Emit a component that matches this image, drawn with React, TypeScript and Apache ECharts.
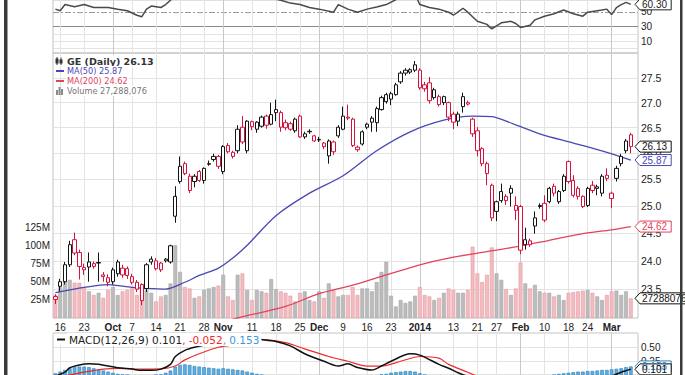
import React, { useEffect, useRef } from 'react';
import * as echarts from 'echarts';

const dates = [
  '2013-09-13','2013-09-16','2013-09-17','2013-09-18','2013-09-19','2013-09-20','2013-09-23','2013-09-24','2013-09-25','2013-09-26','2013-09-27','2013-09-30',
  '2013-10-01','2013-10-02','2013-10-03','2013-10-04','2013-10-07','2013-10-08','2013-10-09','2013-10-10','2013-10-11','2013-10-14','2013-10-15','2013-10-16','2013-10-17','2013-10-18','2013-10-21','2013-10-22','2013-10-23','2013-10-24','2013-10-25','2013-10-28','2013-10-29','2013-10-30','2013-10-31',
  '2013-11-01','2013-11-04','2013-11-05','2013-11-06','2013-11-07','2013-11-08','2013-11-11','2013-11-12','2013-11-13','2013-11-14','2013-11-15','2013-11-18','2013-11-19','2013-11-20','2013-11-21','2013-11-22','2013-11-25','2013-11-26','2013-11-27','2013-11-29',
  '2013-12-02','2013-12-03','2013-12-04','2013-12-05','2013-12-06','2013-12-09','2013-12-10','2013-12-11','2013-12-12','2013-12-13','2013-12-16','2013-12-17','2013-12-18','2013-12-19','2013-12-20','2013-12-23','2013-12-24','2013-12-26','2013-12-27','2013-12-30','2013-12-31',
  '2014-01-02','2014-01-03','2014-01-06','2014-01-07','2014-01-08','2014-01-09','2014-01-10','2014-01-13','2014-01-14','2014-01-15','2014-01-16','2014-01-17','2014-01-21','2014-01-22','2014-01-23','2014-01-24','2014-01-27','2014-01-28','2014-01-29','2014-01-30','2014-01-31',
  '2014-02-03','2014-02-04','2014-02-05','2014-02-06','2014-02-07','2014-02-10','2014-02-11','2014-02-12','2014-02-13','2014-02-14','2014-02-18','2014-02-19','2014-02-20','2014-02-21','2014-02-24','2014-02-25','2014-02-26','2014-02-27','2014-02-28',
  '2014-03-03','2014-03-04','2014-03-05','2014-03-06','2014-03-07'
];

const opens = [
  23.37,23.55,23.63,23.93,24.38,24.15,23.84,23.89,23.90,23.97,23.75,23.70,
  23.63,23.77,23.87,23.86,23.72,23.62,23.58,23.51,23.98,23.86,23.96,24.03,23.98,24.81,25.46,25.80,25.56,25.46,25.65,25.48,25.79,25.88,25.94,
  25.65,26.15,25.94,26.05,26.51,26.05,26.62,26.47,26.53,26.73,26.57,26.86,26.80,26.60,26.58,26.44,26.73,26.32,26.43,26.34,
  26.27,26.20,25.95,26.22,26.34,26.47,26.69,26.67,26.07,26.18,26.51,26.69,26.60,26.86,27.02,27.07,27.16,27.42,27.60,27.62,27.66,
  27.66,27.36,27.40,27.26,27.12,27.12,27.00,26.77,26.63,26.92,27.00,26.67,26.44,26.09,25.80,25.39,25.08,25.10,25.18,25.33,25.01,
  24.99,24.29,24.29,24.63,25.01,25.05,25.08,25.37,25.08,25.29,25.84,25.48,25.33,25.18,25.01,25.39,25.36,25.24,25.58,
  25.24,25.52,25.80,26.05,26.36
];
const closes = [
  23.32,23.63,23.93,24.29,24.14,23.90,23.88,23.98,23.95,23.96,23.72,23.62,
  23.84,23.98,23.75,23.74,23.62,23.50,23.30,23.93,24.03,24.00,23.84,24.00,24.27,25.18,25.75,25.61,25.29,25.56,25.48,25.71,25.80,25.94,25.75,
  26.13,26.03,26.02,26.47,26.22,26.63,26.52,26.61,26.71,26.55,26.76,26.80,26.51,26.50,26.47,26.67,26.32,26.38,26.42,26.24,
  26.26,26.13,26.24,26.03,26.51,26.73,26.71,26.15,26.12,26.42,26.57,26.61,26.88,27.10,27.16,27.18,27.36,27.60,27.66,27.67,27.77,
  27.30,27.28,27.04,27.10,26.96,27.00,26.71,26.61,26.77,27.12,26.97,26.38,26.05,25.80,25.61,24.78,24.90,25.27,25.10,25.24,24.92,
  24.19,24.38,24.36,24.78,24.99,24.74,25.33,25.24,25.27,25.56,25.46,25.20,25.18,24.99,25.33,25.29,25.33,25.56,25.52,
  25.14,25.71,25.94,26.24,26.13
];
const lows = [
  23.24,23.46,23.58,23.89,24.10,23.67,23.75,23.63,23.86,23.63,23.63,23.55,
  23.58,23.72,23.70,23.68,23.58,23.45,23.22,23.45,23.93,23.83,23.80,23.97,23.95,24.69,25.42,25.58,25.24,25.35,25.45,25.42,25.76,25.84,25.70,
  25.60,26.00,25.90,26.00,26.18,26.00,26.45,26.40,26.50,26.48,26.55,26.63,26.42,26.45,26.44,26.40,26.30,26.28,26.38,26.22,
  26.22,26.08,25.80,25.97,26.30,26.45,26.65,26.12,26.03,26.15,26.47,26.42,26.42,26.84,26.98,26.95,27.14,27.38,27.55,27.58,27.62,
  27.26,27.22,26.98,27.06,26.92,26.95,26.63,26.47,26.53,26.80,26.94,26.32,25.94,25.75,25.39,24.72,24.72,25.06,25.02,24.99,24.74,
  24.12,24.20,24.25,24.49,24.95,24.70,25.05,25.18,25.04,25.26,25.42,25.16,25.12,24.96,24.98,25.24,25.20,25.18,25.47,
  24.96,25.46,25.75,26.00,26.00
];
const highs = [
  23.41,23.68,23.98,24.36,24.51,24.20,23.95,24.15,23.99,24.15,23.80,23.76,
  23.88,24.02,23.93,23.90,23.77,23.66,23.60,23.96,24.08,24.05,23.98,24.05,24.29,25.37,25.94,25.84,25.61,25.60,25.68,25.73,25.86,25.99,25.97,
  26.16,26.20,26.05,26.55,26.73,26.65,26.64,26.63,26.74,26.76,27.00,27.06,26.84,26.66,26.62,26.70,26.76,26.42,26.47,26.36,
  26.32,26.22,26.27,26.25,26.55,26.92,26.96,26.70,26.15,26.45,26.60,26.73,26.92,27.14,27.20,27.22,27.40,27.64,27.70,27.70,27.85,
  27.70,27.42,27.52,27.30,27.16,27.14,27.02,26.82,26.82,27.20,27.04,26.70,26.51,26.12,25.84,25.42,25.10,25.42,25.22,25.39,25.18,
  25.02,24.60,24.40,24.90,25.05,25.20,25.36,25.42,25.30,25.60,25.86,25.58,25.37,25.20,25.36,25.47,25.40,25.60,25.71,
  25.27,25.76,25.99,26.28,26.40
];
// volume, millions of shares
const volumes = [
  32,43,54,53,49,49,43,37,32,35,28,39,
  43,32,37,39,43,32,39,39,35,23,30,32,48,101,64,43,41,28,30,39,41,43,45,
  60,30,25,60,62,39,25,39,37,35,54,40,37,35,31,23,35,37,25,23,
  37,28,48,39,30,32,32,43,32,41,41,37,50,64,78,31,16,25,21,23,31,
  43,32,30,25,28,35,41,39,35,35,39,99,62,50,60,98,62,53,40,32,41,
  77,48,41,46,37,35,35,30,32,25,35,36,37,38,39,35,30,25,32,
  37,38,32,37,27.288076
];

const ma50Dates = ['2013-09-13','2013-09-23','2013-09-30','2013-10-07','2013-10-11','2013-10-16','2013-10-22','2013-10-25','2013-10-31','2013-11-05','2013-11-08','2013-11-18','2013-11-27','2013-12-09','2013-12-18','2013-12-30','2014-01-09','2014-01-17','2014-01-24','2014-01-29','2014-02-07','2014-02-19','2014-02-28','2014-03-07'];
const ma50Values = [23.44,23.53,23.58,23.53,23.51,23.50,23.62,23.74,23.87,24.05,24.28,24.82,25.24,25.57,26.05,26.42,26.65,26.73,26.72,26.63,26.38,26.20,26.02,25.87];

const ma200Dates = ['2013-10-25','2013-11-06','2013-11-20','2013-12-02','2013-12-11','2013-12-20','2014-01-02','2014-01-10','2014-01-22','2014-01-31','2014-02-11','2014-02-21','2014-03-03','2014-03-07'];
const ma200Values = [22.82,23.00,23.20,23.42,23.57,23.75,23.93,24.05,24.15,24.25,24.37,24.49,24.56,24.62];

const rsiDates = ['2013-09-13','2013-09-16','2013-09-17','2013-09-19','2013-09-23','2013-09-25','2013-09-30','2013-10-02','2013-10-04','2013-10-08','2013-10-09','2013-10-10','2013-10-11','2013-10-15','2013-10-16','2013-10-18','2013-10-22','2013-10-25','2013-10-30','2013-11-01','2013-11-06','2013-11-08','2013-11-14','2013-11-19','2013-11-21','2013-11-25','2013-11-27','2013-12-02','2013-12-05','2013-12-06','2013-12-10','2013-12-12','2013-12-16','2013-12-18','2013-12-20','2013-12-26','2013-12-31','2014-01-02','2014-01-06','2014-01-08','2014-01-10','2014-01-13','2014-01-14','2014-01-15','2014-01-16','2014-01-21','2014-01-23','2014-01-24','2014-01-27','2014-01-28','2014-01-30','2014-01-31','2014-02-03','2014-02-05','2014-02-06','2014-02-10','2014-02-12','2014-02-14','2014-02-19','2014-02-21','2014-02-24','2014-02-27','2014-02-28','2014-03-03','2014-03-04','2014-03-05','2014-03-06','2014-03-07'];
const rsiValues = [53.75,51.6,60,57,60,55.9,56,53.75,51.6,45.4,43.3,53.75,58,56,60,72,74,68,70,72,74,72,70,66,62,60,56,53.75,49.6,60,53.75,49.6,53.75,56.6,60,70,74,60,55.9,53.75,49.6,45.4,50,55,49.6,37.1,32.9,26.6,30.9,35,37.1,34.1,28.75,31.6,39.1,44.1,47.5,52.5,47.5,44.1,49.6,52.5,53.75,46.25,55.9,60,63,60.3];

const macdDates = ['2013-09-13','2013-09-17','2013-09-18','2013-09-20','2013-09-24','2013-09-26','2013-09-30','2013-10-02','2013-10-07','2013-10-09','2013-10-11','2013-10-15','2013-10-17','2013-10-18','2013-10-22','2013-10-24','2013-10-29','2013-11-01','2013-11-06','2013-11-11','2013-11-13','2013-11-18','2013-11-21','2013-11-26','2013-12-03','2013-12-06','2013-12-10','2013-12-12','2013-12-17','2013-12-19','2013-12-23','2013-12-30','2014-01-02','2014-01-08','2014-01-10','2014-01-14','2014-01-21','2014-01-27','2014-02-03','2014-02-07','2014-02-14','2014-02-24','2014-03-03','2014-03-05','2014-03-07'];
const macdValues = [-0.02,0.05,0.13,0.18,0.20,0.19,0.16,0.13,0.105,0.083,0.083,0.105,0.19,0.33,0.44,0.495,0.55,0.62,0.66,0.65,0.633,0.60,0.52,0.38,0.245,0.16,0.20,0.133,0.088,0.16,0.245,0.38,0.355,0.19,0.12,0.04,-0.10,-0.30,-0.42,-0.38,-0.25,-0.15,-0.02,0.05,0.101];

const signalDates = ['2013-09-13','2013-09-23','2013-09-27','2013-10-02','2013-10-08','2013-10-15','2013-10-18','2013-10-22','2013-10-25','2013-10-31','2013-11-06','2013-11-13','2013-11-20','2013-11-26','2013-12-04','2013-12-10','2013-12-16','2013-12-19','2013-12-26','2014-01-02','2014-01-08','2014-01-10','2014-01-16','2014-01-23','2014-01-30','2014-02-06','2014-02-13','2014-02-21','2014-02-28','2014-03-07'];
const signalValues = [-0.05,0.05,0.105,0.12,0.105,0.11,0.16,0.27,0.38,0.495,0.55,0.633,0.578,0.467,0.33,0.245,0.16,0.16,0.245,0.33,0.30,0.19,0.05,-0.10,-0.25,-0.32,-0.28,-0.18,-0.09,-0.052];

const histValues = [
  0.03,0.06,0.09,0.12,0.14,0.15,0.15,0.14,0.12,0.10,0.08,0.06,
  0.04,0.02,0.01,0.0,-0.01,-0.02,-0.03,-0.02,-0.01,0.0,0.01,0.04,0.08,
  0.15,0.18,0.19,0.18,0.16,0.15,0.14,0.13,0.12,0.11,0.12,0.11,0.10,0.09,0.08,0.06,
  0.04,0.02,0.0,-0.02,-0.03,-0.04,-0.05,-0.06,-0.07,-0.08,-0.09,-0.10,-0.10,-0.10,-0.09,-0.08,-0.07,-0.06,-0.05,-0.04,
  -0.04,-0.05,-0.06,-0.06,-0.05,-0.03,-0.01,0.01,0.02,0.04,0.05,0.06,0.07,0.07,0.06,0.03,0.0,-0.03,-0.06,-0.08,
  -0.10,-0.12,-0.14,-0.15,-0.16,-0.17,-0.18,-0.19,-0.20,-0.21,-0.20,-0.19,-0.17,-0.16,-0.15,-0.13,-0.12,-0.10,-0.08,-0.06,
  -0.05,-0.04,-0.02,0.0,0.02,0.03,0.04,0.05,0.06,0.06,0.07,0.07,0.08,0.09,0.09,0.10,0.11,0.12,0.14,0.153
];

const priceTicks = [23.5, 24.0, 24.5, 25.0, 25.5, 26.0, 26.5, 27.0, 27.5];
const rsiLevels = [50, 30, 20, 10, 0];
const rsiLabeled = [50, 30, 10];
const xTickDates = ['2013-09-16','2013-09-23','2013-10-01','2013-10-07','2013-10-14','2013-10-21','2013-10-28','2013-11-01','2013-11-11','2013-11-18','2013-11-25','2013-12-02','2013-12-09','2013-12-16','2013-12-23','2014-01-02','2014-01-13','2014-01-21','2014-01-27','2014-02-03','2014-02-10','2014-02-18','2014-02-24','2014-03-03'];
const xTickLabels = ['16','23','Oct','7','14','21','28','Nov','11','18','25','Dec','9','16','23','2014','13','21','27','Feb','10','18','24','Mar'];

const RED = '#d6123c';
const BLACK = '#141414';
const MA50_COLOR = '#4848b4';
const MA200_COLOR = '#e2435c';
const VOL_RED = '#f3bcc0';
const VOL_RED_EDGE = '#e39aa2';
const VOL_GRAY = '#bcbcbc';
const VOL_GRAY_EDGE = '#a4a4a4';
const GRID_LIGHT = '#e3e3e3';
const GRID_MONTH = '#c8c8c8';
const HIST_FILL = '#5dafe0';
const HIST_EDGE = '#2d7fbb';
const SIGNAL_COLOR = '#ee2b2b';
const AXIS_FONT = '"Liberation Sans", Arial, sans-serif';
const LEGEND_FONT = '"DejaVu Sans", Verdana, sans-serif';

export default function App() {
  const ref = useRef<HTMLDivElement>(null);

  useEffect(() => {
    if (!ref.current) return;
    const chart = echarts.init(ref.current, null, { renderer: 'svg' });
    const cats = [...dates, ''];
    const last = (a: number[]) => a[a.length - 1];
    const isDown = (i: number) => i === 0 || closes[i] < closes[i - 1];
    const tickIndex = new Map<number, string>(xTickDates.map((d, i) => [dates.indexOf(d), xTickLabels[i]]));
    const isMonthLabel = (s: string) => !/^\d{1,2}$/.test(s);

    const vLines = xTickDates.map((d, i) => ({
      xAxis: d,
      lineStyle: { color: isMonthLabel(xTickLabels[i]) ? GRID_MONTH : GRID_LIGHT, width: 1, type: 'solid' },
      label: { show: false },
    }));

    const markBase = {
      silent: true,
      symbol: ['none', 'none'],
      z: 1,
      animation: false,
      emphasis: { disabled: true },
      label: { show: false },
    };

    const priceLines = priceTicks.map((v) => ({
      yAxis: v,
      lineStyle: { color: GRID_LIGHT, width: 1, type: 'solid' },
      label: { show: true, position: 'end', formatter: v.toFixed(1), color: '#222', fontSize: 10.5, fontFamily: AXIS_FONT, distance: 3 },
    }));

    const rsiLines = rsiLevels.map((v) => ({
      yAxis: v,
      lineStyle: v === 50
        ? { color: '#9a9a9a', width: 1, type: [6, 2, 2, 2] }
        : v === 30
          ? { color: '#8a8a8a', width: 1, type: 'solid' }
          : { color: GRID_LIGHT, width: 1, type: 'solid' },
      label: { show: rsiLabeled.includes(v), position: 'end', formatter: String(v), color: '#222', fontSize: 10, fontFamily: AXIS_FONT, distance: 3 },
    }));

    const candleData = dates.map((d, i) => {
      const col = isDown(i) ? RED : BLACK;
      return {
        value: [opens[i], closes[i], lows[i], highs[i]],
        itemStyle: { color: '#ffffff', color0: col, borderColor: col, borderColor0: col, borderWidth: 1 },
      };
    });

    const volumeData = volumes.map((v, i) => ({
      value: v,
      itemStyle: isDown(i)
        ? { color: VOL_RED, borderColor: VOL_RED_EDGE, borderWidth: 0.6 }
        : { color: VOL_GRAY, borderColor: VOL_GRAY_EDGE, borderWidth: 0.6 },
    }));

    const gridCommon = { left: 53, width: 585, show: true, borderColor: '#c2c2c2', borderWidth: 1, backgroundColor: 'transparent' };

    const xAxisCommon = (gridIndex: number) => ({
      type: 'category',
      gridIndex,
      data: cats,
      boundaryGap: true,
      axisLine: { show: false },
      axisTick: { show: false },
      splitLine: { show: false },
      axisLabel: gridIndex === 1
        ? {
            show: true,
            interval: (idx: number) => tickIndex.has(idx),
            formatter: (_v: string, idx: number) => {
              const s = tickIndex.get(idx) || '';
              return isMonthLabel(s) ? `{b|${s}}` : s;
            },
            margin: 4,
            color: '#222',
            fontSize: 10,
            fontFamily: AXIS_FONT,
            rich: { b: { fontWeight: 'bold', fontSize: 10, fontFamily: AXIS_FONT, color: '#222' } },
          }
        : { show: false },
    });

    const option: any = {
      animation: false,
      backgroundColor: '#ffffff',
      grid: [
        { ...gridCommon, top: -5, height: 58 },
        { ...gridCommon, top: 53, height: 265 },
        { ...gridCommon, top: 333, height: 45 },
      ],
      xAxis: [xAxisCommon(0), xAxisCommon(1), xAxisCommon(2)],
      yAxis: [
        { gridIndex: 0, type: 'value', min: -6.25, max: 66.25, show: false },
        { gridIndex: 1, type: 'log', logBase: 10, min: 23.0, max: 28.016, show: false },
        {
          gridIndex: 1, type: 'value', min: 0, max: 368, interval: 25, position: 'left',
          axisLine: { show: false }, axisTick: { show: false }, splitLine: { show: false },
          axisLabel: {
            margin: 3, color: '#222', fontSize: 10, fontFamily: AXIS_FONT,
            formatter: (v: number) => (v > 0 && v <= 125 ? `${v}M` : ''),
          },
        },
        {
          gridIndex: 2, type: 'value', min: 0, max: 0.75, interval: 0.25, position: 'right',
          axisLine: { show: false }, axisTick: { show: false },
          splitLine: { show: true, lineStyle: { color: GRID_LIGHT } },
          axisLabel: {
            margin: 3, color: '#222', fontSize: 10, fontFamily: AXIS_FONT,
            formatter: (v: number) => (Math.abs(v - 0.25) < 1e-9 ? '0.25' : Math.abs(v - 0.5) < 1e-9 ? '0.50' : ''),
          },
        },
      ],
      series: [
        {
          name: 'RSI', type: 'line', xAxisIndex: 0, yAxisIndex: 0,
          data: rsiDates.map((d, i) => [d, rsiValues[i]]),
          symbol: 'none', lineStyle: { color: '#4a4a4a', width: 1.5 }, z: 3, silent: true,
          markLine: { ...markBase, data: [...rsiLines, ...vLines] },
        },
        {
          name: 'RSI oversold', type: 'line', xAxisIndex: 0, yAxisIndex: 0,
          data: rsiDates.map((d, i) => [d, Math.min(rsiValues[i], 30)]),
          symbol: 'none', lineStyle: { width: 0, opacity: 0 },
          areaStyle: { origin: 30, color: '#b06a6a', opacity: 0.85 }, z: 2, silent: true,
        },
        {
          name: 'Volume', type: 'bar', xAxisIndex: 1, yAxisIndex: 2,
          data: volumeData, barWidth: 3.8, z: 2, silent: true,
        },
        {
          name: 'MA(200)', type: 'line', xAxisIndex: 1, yAxisIndex: 1,
          data: ma200Dates.map((d, i) => [d, ma200Values[i]]),
          symbol: 'none', smooth: 0.3, lineStyle: { color: MA200_COLOR, width: 1.3 }, z: 3, silent: true,
          markLine: { ...markBase, data: [...priceLines, ...vLines] },
        },
        {
          name: 'MA(50)', type: 'line', xAxisIndex: 1, yAxisIndex: 1,
          data: ma50Dates.map((d, i) => [d, ma50Values[i]]),
          symbol: 'none', smooth: 0.3, lineStyle: { color: MA50_COLOR, width: 1.3 }, z: 3, silent: true,
        },
        {
          name: 'GE', type: 'candlestick', xAxisIndex: 1, yAxisIndex: 1,
          data: candleData, barWidth: 3.8, z: 4, silent: true,
        },
        {
          name: 'Histogram', type: 'bar', xAxisIndex: 2, yAxisIndex: 3,
          data: histValues, barWidth: 3.6, z: 2, silent: true,
          itemStyle: { color: HIST_FILL, borderColor: HIST_EDGE, borderWidth: 0.6 },
          markLine: { ...markBase, data: vLines },
        },
        {
          name: 'Signal', type: 'line', xAxisIndex: 2, yAxisIndex: 3,
          data: signalDates.map((d, i) => [d, signalValues[i]]),
          symbol: 'none', smooth: 0.3, lineStyle: { color: SIGNAL_COLOR, width: 1.2 }, z: 3, silent: true,
        },
        {
          name: 'MACD', type: 'line', xAxisIndex: 2, yAxisIndex: 3,
          data: macdDates.map((d, i) => [d, macdValues[i]]),
          symbol: 'none', smooth: 0.3, lineStyle: { color: '#111', width: 1.5 }, z: 4, silent: true,
        },
      ],
    };

    chart.setOption(option);

    const px = (axis: number, v: number) => chart.convertToPixel({ yAxisIndex: axis } as any, v) as unknown as number;
    const textW = (s: string) => s.split('').reduce((a, c) => a + (c === '.' || c === ',' ? 2.8 : 5.6), 0);
    const tag = (y: number, text: string, color: string) => {
      const x0 = 635;
      const w = textW(text) + 6;
      return [
        {
          type: 'polygon', z: 60, silent: true,
          shape: { points: [[x0, y], [x0 + 5, y - 5.5], [x0 + 5 + w, y - 5.5], [x0 + 5 + w, y + 5.5], [x0 + 5, y + 5.5]] },
          style: { fill: '#ffffff', stroke: color, lineWidth: 1 },
        },
        {
          type: 'text', z: 61, silent: true, x: x0 + 7, y,
          style: { text, fill: color, font: `10px ${AXIS_FONT}`, verticalAlign: 'middle', align: 'left' },
        },
      ];
    };

    const lastVol = Math.round(last(volumes) * 1e6);
    const tags = [
      ...tag(px(0, last(rsiValues)), last(rsiValues).toFixed(2), '#222'),
      ...tag(px(1, last(closes)), last(closes).toFixed(2), '#111'),
      ...tag(px(1, last(ma50Values)), last(ma50Values).toFixed(2), MA50_COLOR),
      ...tag(px(1, last(ma200Values)), last(ma200Values).toFixed(2), MA200_COLOR),
      ...tag(px(2, last(volumes)), String(lastVol), '#111'),
      ...tag(px(3, last(histValues)), last(histValues).toFixed(3), HIST_EDGE),
      ...tag(px(3, last(macdValues)), last(macdValues).toFixed(3), '#111'),
    ];

    const legendText = (y: number, text: string, color: string, bold = false) => ({
      type: 'text', z: 50, silent: true, x: 66, y,
      style: {
        text, fill: color, font: `${bold ? 'bold 9.5px' : '8.2px'} ${LEGEND_FONT}`,
        verticalAlign: 'middle', align: 'left', backgroundColor: '#ffffff', padding: [1, 1],
      },
    });

    const graphic = [
      // panel frame bars
      { type: 'rect', z: 70, silent: true, shape: { x: 4, y: 0, width: 3.5, height: 375 }, style: { fill: '#3a3a3a' } },
      { type: 'rect', z: 70, silent: true, shape: { x: 680, y: 0, width: 2.5, height: 375 }, style: { fill: '#3a3a3a' } },
      // GE icon
      { type: 'rect', z: 50, silent: true, shape: { x: 55, y: 57, width: 9, height: 9 }, style: { fill: '#ffffff' } },
      { type: 'line', z: 51, silent: true, shape: { x1: 57, y1: 57, x2: 57, y2: 65 }, style: { stroke: '#333', lineWidth: 1 } },
      { type: 'rect', z: 51, silent: true, shape: { x: 55.5, y: 58.5, width: 3, height: 5 }, style: { fill: '#333' } },
      { type: 'line', z: 51, silent: true, shape: { x1: 61, y1: 57.5, x2: 61, y2: 65 }, style: { stroke: '#333', lineWidth: 1 } },
      { type: 'rect', z: 51, silent: true, shape: { x: 59.5, y: 59.5, width: 3, height: 4 }, style: { fill: '#333' } },
      legendText(61, `GE (Daily) ${last(closes).toFixed(2)}`, '#333', true),
      // MA50
      { type: 'line', z: 51, silent: true, shape: { x1: 56, y1: 71, x2: 64, y2: 71 }, style: { stroke: MA50_COLOR, lineWidth: 2 } },
      legendText(71, `MA(50) ${last(ma50Values).toFixed(2)}`, MA50_COLOR),
      // MA200
      { type: 'line', z: 51, silent: true, shape: { x1: 56, y1: 81, x2: 64, y2: 81 }, style: { stroke: MA200_COLOR, lineWidth: 2 } },
      legendText(81, `MA(200) ${last(ma200Values).toFixed(2)}`, MA200_COLOR),
      // Volume
      { type: 'rect', z: 51, silent: true, shape: { x: 56, y: 90, width: 2, height: 5 }, style: { fill: '#8a8a8a' } },
      { type: 'rect', z: 51, silent: true, shape: { x: 58.5, y: 87, width: 2, height: 8 }, style: { fill: '#8a8a8a' } },
      { type: 'rect', z: 51, silent: true, shape: { x: 61, y: 89, width: 2, height: 6 }, style: { fill: '#8a8a8a' } },
      legendText(91, `Volume ${lastVol.toLocaleString('en-US')}`, '#777'),
      // MACD legend
      { type: 'rect', z: 50, silent: true, shape: { x: 55, y: 334, width: 12, height: 11 }, style: { fill: '#ffffff' } },
      { type: 'line', z: 51, silent: true, shape: { x1: 57, y1: 339.5, x2: 65, y2: 339.5 }, style: { stroke: '#111', lineWidth: 2 } },
      {
        type: 'text', z: 51, silent: true, x: 67, y: 339.5,
        style: {
          text: `{a|MACD(12,26,9) ${last(macdValues).toFixed(3)}}{b|, ${last(signalValues).toFixed(3)}}{c|, ${last(histValues).toFixed(3)}}`,
          font: `10.5px ${LEGEND_FONT}`,
          verticalAlign: 'middle', align: 'left', backgroundColor: '#ffffff', padding: [1, 2],
          rich: {
            a: { fill: '#222', font: `10.5px ${LEGEND_FONT}` },
            b: { fill: SIGNAL_COLOR, font: `10.5px ${LEGEND_FONT}` },
            c: { fill: '#3a9ad6', font: `10.5px ${LEGEND_FONT}` },
          },
        },
      },
      ...tags,
    ];

    chart.setOption({ graphic });

    return () => chart.dispose();
  }, []);

  return (
    <div
      ref={ref}
      style={{ position: 'absolute', left: 0, top: 0, width: 685, height: 375, overflow: 'hidden', background: '#fff' }}
    />
  );
}
